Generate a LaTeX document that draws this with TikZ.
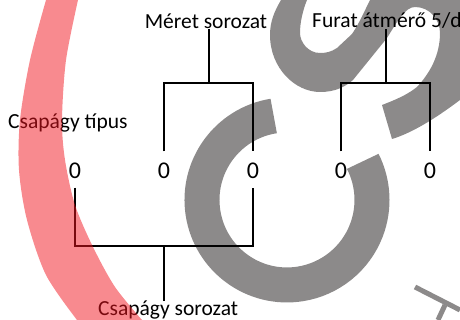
\documentclass[tikz,border=0pt]{standalone}
\usepackage{fontspec}
\setmainfont{Carlito}
\definecolor{ringgray}{RGB}{140,138,138}
\definecolor{bandred}{RGB}{241,21,31}
\tikzset{
	label/.style={inner sep=0pt, font=\fontsize{21.5}{21.5}\selectfont},
	digit/.style={inner sep=0pt, text height=19pt, text depth=0pt, minimum height=36pt, font=\fontsize{24}{24}\selectfont},
	bracket/.style={line width=2pt, black},
}
\begin{document}
\begin{tikzpicture}[x=1pt,y=1pt]
	\useasboundingbox (0,0) rectangle (460,320);
	% gray background marks
	\draw[ringgray, line width=35pt] (273.7,204) arc[start angle=99, end angle=387, radius=85];
	\fill[ringgray] (281,320) .. controls (274,308) and (270,298) .. (270,285)
		.. controls (270,252) and (295,228) .. (320,228)
		.. controls (335,228) and (345,233) .. (353,240) -- (387,282)
		.. controls (397,298) and (405,313) .. (415,313)
		.. controls (430,313) and (440,300) .. (440,287)
		.. controls (440,265) and (430,247) .. (417,233)
		.. controls (407,225) and (395,220) .. (382,215) -- (392,181)
		.. controls (415,188) and (440,205) .. (460,220) -- (470,225) -- (470,330) -- (372,330)
		-- (370,320) .. controls (364,308) and (360,298) .. (352,286) -- (337,272)
		.. controls (331,268) and (326,267) .. (320,267)
		.. controls (308,267) and (300,278) .. (300,287)
		.. controls (300,298) and (303,310) .. (307,320) -- cycle;
	\draw[ringgray, line width=5pt] (415,33) -- (460,10);
	\draw[ringgray, line width=5pt] (445,15) -- (438,0);
	% texts
	\node[label] (meret) at (206,299) {Méret sorozat};
	\node[label, anchor=west] (furat) at (312,299) {Furat átmérő 5/d};
	\node[label, anchor=west] (tipus) at (8,197) {Csapágy típus};
	\node[label, anchor=west] (sorozat) at (98,9.5) {Csapágy sorozat};
	\node[digit] (d1) at (75,150.5) {0};
	\node[digit] (d2) at (164,150.5) {0};
	\node[digit] (d3) at (253,150.5) {0};
	\node[digit] (d4) at (341,150.5) {0};
	\node[digit] (d5) at (430,150.5) {0};
	% brackets
	\coordinate (meretjoin) at (208.5,237);
	\coordinate (furatjoin) at (385.5,237);
	\coordinate (sorozatjoin) at (164,73.5);
	\draw[bracket] (d2.north) -- (d2.north |- meretjoin) -- (d3.north |- meretjoin) -- (d3.north);
	\draw[bracket] (d4.north) -- (d4.north |- furatjoin) -- (d5.north |- furatjoin) -- (d5.north);
	\draw[bracket] (d1.south) -- (d1.south |- sorozatjoin) -- (d3.south |- sorozatjoin) -- (d3.south);
	\draw[bracket] (meret.south -| meretjoin) -- (meretjoin);
	\draw[bracket] (furat.south -| furatjoin) -- (furatjoin);
	\draw[bracket] (sorozat.north -| sorozatjoin) -- (sorozatjoin);
	% red band on top
	\fill[bandred, opacity=0.5] plot[smooth] coordinates {(46,320) (30,260) (20,200) (19,150) (27,100) (46,45) (77,0)}
		-- plot[smooth] coordinates {(142,0) (115,33) (93,73) (75,115) (65,160) (62,200) (66,260) (78,320)} -- cycle;
\end{tikzpicture}
\end{document}
